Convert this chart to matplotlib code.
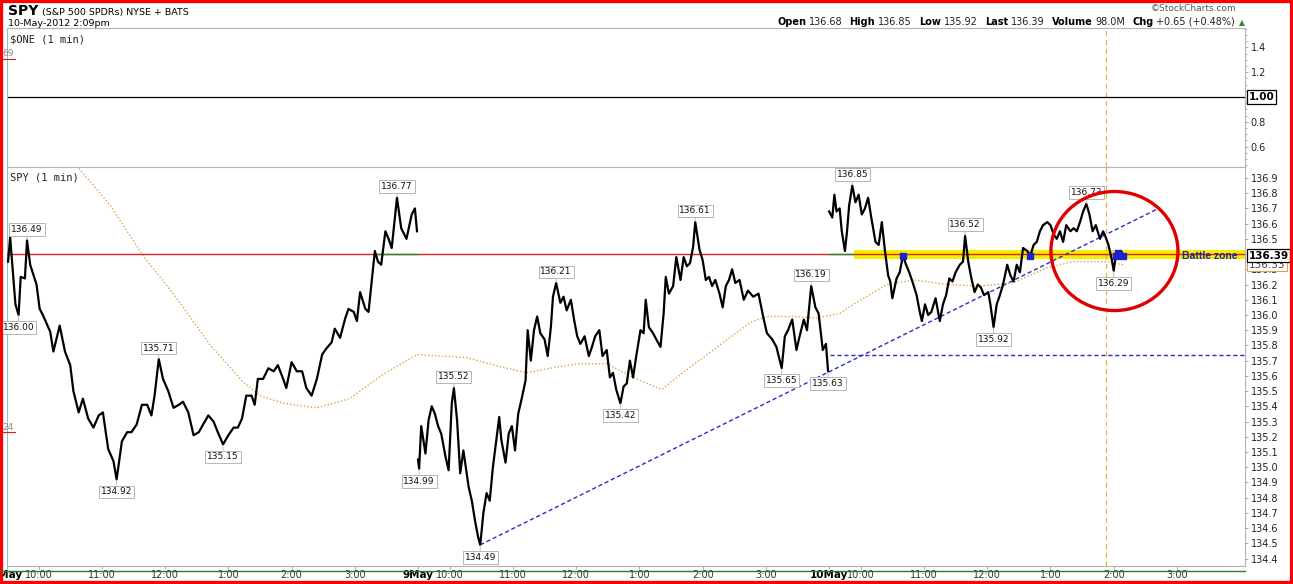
import matplotlib
matplotlib.use('Agg')
import matplotlib.pyplot as plt
import matplotlib.transforms as mtransforms
from matplotlib.patches import Ellipse, Rectangle
from matplotlib.lines import Line2D
import numpy as np

# SPY 1-min, 8-10 May 2012 (minutes after 9:30 open, price)
day1_t = [1, 3, 8, 11, 13, 17, 19, 22, 28, 31, 34, 41, 44, 50, 55, 60, 63, 68, 72, 77,
          82, 87, 91, 96, 101, 104, 109, 114, 118, 123, 128, 133, 137, 140, 144, 148, 153, 158, 163, 167,
          172, 177, 182, 186, 191, 196, 200, 205, 210, 215, 219, 223, 227, 232, 235, 238, 243, 248, 253, 257,
          262, 265, 270, 275, 280, 284, 289, 294, 299, 303, 308, 311, 316, 321, 324, 329, 332, 335, 340, 343,
          346, 349, 352, 355, 359, 362, 365, 370, 374, 379, 384, 387, 389]
day1_p = [136.35, 136.51, 136.07, 136.00, 136.25, 136.24, 136.49, 136.33, 136.20, 136.04, 136.00, 135.89, 135.76, 135.93, 135.76, 135.67, 135.50, 135.36, 135.45, 135.32,
          135.26, 135.34, 135.36, 135.12, 135.04, 134.92, 135.17, 135.23, 135.23, 135.28, 135.41, 135.41, 135.34, 135.47, 135.71, 135.58, 135.50, 135.39, 135.41, 135.43,
          135.36, 135.21, 135.23, 135.28, 135.34, 135.30, 135.23, 135.15, 135.21, 135.26, 135.26, 135.32, 135.47, 135.47, 135.41, 135.58, 135.58, 135.65, 135.63, 135.67,
          135.58, 135.52, 135.69, 135.63, 135.63, 135.52, 135.47, 135.58, 135.74, 135.78, 135.82, 135.91, 135.85, 135.98, 136.04, 136.02, 135.96, 136.15, 136.04, 136.02,
          136.22, 136.42, 136.35, 136.33, 136.55, 136.50, 136.44, 136.77, 136.57, 136.50, 136.66, 136.70, 136.55]

day2_t = [0, 1, 3, 7, 10, 13, 16, 19, 22, 26, 29, 32, 34, 37, 40, 43, 48, 51, 54, 57,
          59, 62, 65, 68, 71, 75, 77, 79, 83, 86, 89, 92, 95, 98, 102, 104, 107, 110, 113, 116,
          120, 123, 126, 128, 131, 135, 138, 141, 145, 148, 151, 154, 158, 162, 165, 168, 172, 175, 179, 182,
          185, 188, 192, 195, 198, 201, 204, 207, 211, 214, 216, 219, 223, 226, 230, 233, 235, 238, 242, 245,
          249, 252, 255, 258, 261, 263, 267, 270, 273, 276, 279, 282, 286, 289, 292, 295, 298, 301, 305, 309,
          313, 318, 323, 328, 331, 336, 340, 345, 348, 351, 355, 359, 362, 366, 369, 373, 377, 380, 384, 387, 389]
day2_p = [135.05, 134.99, 135.27, 135.09, 135.31, 135.40, 135.35, 135.27, 135.22, 135.07, 134.98, 135.42, 135.52, 135.31, 134.96, 135.11, 134.87, 134.78, 134.65, 134.54,
          134.49, 134.70, 134.83, 134.78, 135.00, 135.22, 135.33, 135.18, 135.03, 135.22, 135.27, 135.11, 135.35, 135.44, 135.57, 135.90, 135.70, 135.90, 135.99, 135.88,
          135.84, 135.73, 135.92, 136.12, 136.21, 136.08, 136.12, 136.03, 136.10, 135.97, 135.86, 135.81, 135.86, 135.73, 135.79, 135.86, 135.90, 135.73, 135.77, 135.59,
          135.62, 135.51, 135.42, 135.53, 135.55, 135.70, 135.59, 135.73, 135.90, 135.88, 136.10, 135.92, 135.88, 135.84, 135.79, 136.01, 136.25, 136.14, 136.19, 136.38,
          136.23, 136.38, 136.32, 136.34, 136.45, 136.61, 136.43, 136.36, 136.23, 136.25, 136.19, 136.23, 136.14, 136.05, 136.19, 136.23, 136.30, 136.21, 136.23, 136.10,
          136.16, 136.12, 136.14, 135.97, 135.88, 135.84, 135.79, 135.65, 135.86, 135.90, 135.97, 135.77, 135.86, 135.97, 135.90, 136.19, 136.05, 136.01, 135.77, 135.81, 135.63]

day3_t = [0, 3, 5, 7, 10, 12, 15, 17, 19, 22, 25, 28, 31, 34, 37, 40, 44, 47, 50, 53,
          56, 58, 60, 64, 67, 70, 73, 76, 79, 83, 86, 88, 91, 94, 97, 101, 105, 108, 111, 114,
          117, 120, 124, 127, 129, 132, 135, 138, 141, 144, 147, 151, 153, 156, 159, 162, 165, 169, 172, 175,
          178, 181, 184, 188, 191, 194, 197, 200, 203, 207, 210, 213, 216, 219, 222, 225, 229, 232, 235, 238,
          241, 244, 247, 250, 253, 257, 260, 263, 265, 268, 270, 272, 274, 277, 279]
day3_p = [136.68, 136.64, 136.79, 136.68, 136.70, 136.55, 136.42, 136.55, 136.72, 136.85, 136.74, 136.79, 136.66, 136.70, 136.77, 136.64, 136.48, 136.46, 136.61, 136.42,
          136.26, 136.22, 136.11, 136.24, 136.28, 136.39, 136.33, 136.28, 136.22, 136.13, 136.02, 135.96, 136.07, 136.00, 136.02, 136.11, 135.96, 136.07, 136.13, 136.24,
          136.22, 136.28, 136.33, 136.35, 136.52, 136.35, 136.24, 136.15, 136.20, 136.18, 136.13, 136.15, 136.07, 135.92, 136.07, 136.13, 136.20, 136.33, 136.26, 136.22,
          136.33, 136.28, 136.44, 136.42, 136.39, 136.46, 136.48, 136.55, 136.59, 136.61, 136.59, 136.53, 136.50, 136.55, 136.48, 136.59, 136.55, 136.57, 136.55, 136.61,
          136.68, 136.73, 136.66, 136.55, 136.59, 136.50, 136.55, 136.50, 136.46, 136.37, 136.29, 136.39, 136.41, 136.42, 136.39]

# moving average (global minute index over the 3 sessions)
ma_t = [66, 98, 129, 161, 193, 224, 240, 262, 294, 325, 357, 389, 436, 468, 493, 515, 541, 569, 594,
        621, 641, 674, 705, 721, 746, 768, 790, 803, 835, 860, 892, 923, 954, 987, 1011, 1044, 1059]
ma_p = [136.98, 136.72, 136.39, 136.11, 135.80, 135.56, 135.47, 135.42, 135.39, 135.45, 135.61, 135.74, 135.72,
        135.66, 135.62, 135.65, 135.68, 135.68, 135.59, 135.51, 135.62, 135.79, 135.95, 135.99, 135.99, 135.98,
        136.01, 136.07, 136.20, 136.23, 136.20, 136.19, 136.21, 136.31, 136.35, 136.35, 136.33]

# high / low call-outs
mark_t = [19, 11, 144, 104, 205, 370, 391, 424, 449, 521, 582, 653, 763, 735, 779, 802, 909, 936, 1024, 1050]
mark_p = [136.49, 136.00, 135.71, 134.92, 135.15, 136.77, 134.99, 135.52, 134.49, 136.21, 135.42, 136.61,
          136.19, 135.65, 135.63, 136.85, 136.52, 135.92, 136.73, 136.29]
mark_up = [1, 0, 1, 0, 0, 1, 0, 1, 0, 1, 0, 1, 1, 0, 0, 1, 1, 0, 1, 0]

# drawn lines
trend_t = [449, 1094]
trend_p = [134.49, 136.705]
prev_close = 135.74
red_level = 136.40
zone_lo, zone_hi = 136.37, 136.43
zone_start = 803.6
now_line = 1042.5
last_price = 136.39
last_ma = 136.33

days = ['8May', '9May', '10May']
hour_labels = ['10:00', '11:00', '12:00', '1:00', '2:00', '3:00']
hour_offsets = [30, 90, 150, 210, 270, 330]

quote_labels = ['Open', 'High', 'Low', 'Last', 'Volume', 'Chg']
quote_values = ['136.68', '136.85', '135.92', '136.39', '98.0M', '+0.65 (+0.48%)']

W, H = 1293, 584
def fx(px): return px / W
def fy(py): return 1 - py / H

plt.rcParams['font.family'] = 'DejaVu Sans'
fig = plt.figure(figsize=(W / 100, H / 100), dpi=100)
fig.patch.set_facecolor('white')

xmax = 1238 / 1.054
ax1 = fig.add_axes([fx(7), fy(167), 1238 / W, 139 / H])
ax2 = fig.add_axes([fx(7), fy(566), 1238 / W, 399 / H])

for ax in (ax1, ax2):
    ax.set_xlim(0, xmax)
    for s in ax.spines.values():
        s.set_color('#b4b4b4')
        s.set_linewidth(0.8)
    ax.yaxis.tick_right()
    ax.tick_params(axis='y', which='both', direction='out', length=2.5, width=0.6,
                   color='#999999', labelsize=7, labelcolor='#222222', pad=1.5)
    ax.axvline(now_line, color='#e8b040', lw=0.9, ls=(0, (4, 3)), zorder=2)

# top panel ($ONE)
ax1.set_ylim(0.435, 1.556)
ax1.set_yticks([0.6, 0.8, 1.2, 1.4])
ax1.set_yticklabels(['0.6', '0.8', '1.2', '1.4'])
ax1.set_yticks(np.arange(0.45, 1.56, 0.05), minor=True)
ax1.tick_params(axis='y', which='minor', length=1.2)
ax1.set_xticks([])
ax1.axhline(1.0, color='black', lw=0.9)
ax1.text(1.003, 1.0, '1.00', transform=mtransforms.blended_transform_factory(ax1.transAxes, ax1.transData),
         ha='left', va='center', fontsize=7.5, fontweight='bold',
         bbox=dict(boxstyle='square,pad=0.15', fc='white', ec='black', lw=0.9))
ax1.text(0.0025, 0.955, '$ONE (1 min)', transform=ax1.transAxes, ha='left', va='top',
         fontsize=7.5, family='DejaVu Sans Mono', color='#222222')

# lower panel (SPY)
ax2.set_ylim(134.351, 136.972)
yt = np.round(np.arange(134.4, 136.95, 0.1), 1)
ax2.set_yticks(yt)
ax2.set_yticklabels([f'{v:.1f}' for v in yt])

ax2.axhspan(zone_lo, zone_hi, xmin=zone_start / xmax, xmax=1, color='#f2f000', lw=0, zorder=1)
ax2.axhline(red_level, color='#e02020', lw=1, zorder=3)
ax2.plot([352, 390], [red_level] * 2, color='#2a8a2a', lw=1, zorder=3.5)
ax2.plot([780, zone_start], [red_level] * 2, color='#2a8a2a', lw=1, zorder=3.5)
ax2.plot([781, xmax], [prev_close] * 2, color='#2a2ad0', lw=1, ls=(0, (3, 2)), zorder=3)
ax2.plot(trend_t, trend_p, color='#2a2ad0', lw=1, ls=(0, (3, 2)), zorder=3)
ax2.plot(ma_t, ma_p, color='#e0a050', lw=1, ls=(0, (1, 1.5)), zorder=3)

for off, tt, pp in ((0, day1_t, day1_p), (390, day2_t, day2_p), (780, day3_t, day3_p)):
    ax2.plot(np.array(tt) + off, pp, color='black', lw=1.6, zorder=4)

# price bars sitting on the red line inside the battle zone
t3 = np.array(day3_t) + 780
p3 = np.array(day3_p)
hit = (np.abs(p3 - red_level) <= 0.015) & (t3 >= zone_start)
ax2.plot(t3[hit], p3[hit], ls='none', marker='s', ms=4, color='#2020d0', zorder=5)

for t, p, up in zip(mark_t, mark_p, mark_up):
    ax2.annotate(f'{p:.2f}', xy=(t, p), xytext=(0, 8 if up else -9), textcoords='offset points',
                 ha='center', va='center', fontsize=6.5, color='#111111', zorder=6,
                 bbox=dict(boxstyle='square,pad=0.2', fc='white', ec='#b5b5b5', lw=0.7),
                 arrowprops=dict(arrowstyle='-', color='#b5b5b5', lw=0.6, shrinkA=0, shrinkB=0.5))

ax2.text(0.0025, 0.985, 'SPY (1 min)', transform=ax2.transAxes, ha='left', va='top',
         fontsize=7.5, family='DejaVu Sans Mono', color='#222222')
ax2.text((1182 - 7) / 1.054, 136.39, 'Battle zone', ha='left', va='center', fontsize=7.5,
         fontweight='bold', family='Liberation Sans', color='#2020a8', zorder=6)
ax2.add_patch(Ellipse((1050.7, 136.42), 120.5, 0.782, fill=False, ec='#e00000', lw=2.4,
                      zorder=7, clip_on=False))

bt = mtransforms.blended_transform_factory(ax2.transAxes, ax2.transData)
ax2.text(1.003, last_ma, f'{last_ma:.2f}', transform=bt, ha='left', va='center', fontsize=7.5,
         color='#444444', zorder=8,
         bbox=dict(boxstyle='square,pad=0.15', fc='white', ec='#e0a050', lw=0.8))
ax2.text(1.003, last_price, f'{last_price:.2f}', transform=bt, ha='left', va='center', fontsize=7.5,
         fontweight='bold', color='black', zorder=9,
         bbox=dict(boxstyle='square,pad=0.15', fc='white', ec='black', lw=0.9))

# time axis
xt, xl = [], []
for d, name in enumerate(days):
    xt.append(d * 390)
    xl.append(name)
    for off, lab in zip(hour_offsets, hour_labels):
        xt.append(d * 390 + off)
        xl.append(lab)
ax2.set_xticks(xt)
ax2.set_xticklabels(xl)
ax2.tick_params(axis='x', direction='out', length=2.2, width=0.6, color='#999999',
                labelsize=7, labelcolor='#333333', pad=0.8)
for lab in ax2.get_xticklabels():
    if lab.get_text() in days:
        lab.set_fontweight('bold')
        lab.set_fontsize(7.5)
        lab.set_color('black')

fig.add_artist(Line2D([0, fx(1245)], [fy(570.5)] * 2, color='#2a7a2a', lw=1))

# side level labels
for y_txt, y_line, s in ((53, 59, '69'), (427, 432, '24')):
    fig.text(fx(2), fy(y_txt), s, ha='left', va='center', fontsize=6.5, color='#888888')
    fig.add_artist(Line2D([0, fx(15)], [fy(y_line)] * 2, color='#d02020', lw=0.8))

# header
r = fig.canvas.get_renderer()
t = fig.text(fx(8), fy(15), 'SPY', ha='left', va='baseline', fontsize=10, fontweight='bold')
x = 8 + t.get_window_extent(r).width + 4
fig.text(fx(x), fy(15), '(S&P 500 SPDRs) NYSE + BATS', ha='left', va='baseline', fontsize=6.8)
fig.text(fx(8), fy(26), '10-May-2012 2:09pm', ha='left', va='baseline', fontsize=6.8)
fig.text(fx(1237), fy(11), '\u00a9StockCharts.com', ha='right', va='baseline', fontsize=6.5, color='#555555')

pieces = []
for lab, val in zip(quote_labels, quote_values):
    pieces.append((lab, 'bold', 7))
    pieces.append((val, 'normal', 3))
x = 1245
t = fig.text(fx(x), fy(25), '\u25b2', ha='right', va='baseline', fontsize=5.5, color='#2a8a2a')
x -= t.get_window_extent(r).width + 4
for s, wt, gap in reversed(pieces):
    t = fig.text(fx(x), fy(25), s, ha='right', va='baseline', fontsize=7,
                 fontweight=wt, color='black' if wt == 'bold' else '#222222')
    x -= t.get_window_extent(r).width + gap

# red frame
fig.add_artist(Rectangle((0, 0), 1, 1, transform=fig.transFigure, fill=False, ec='#ff0000', lw=4.5))

fig.savefig('out.png', dpi=100)
